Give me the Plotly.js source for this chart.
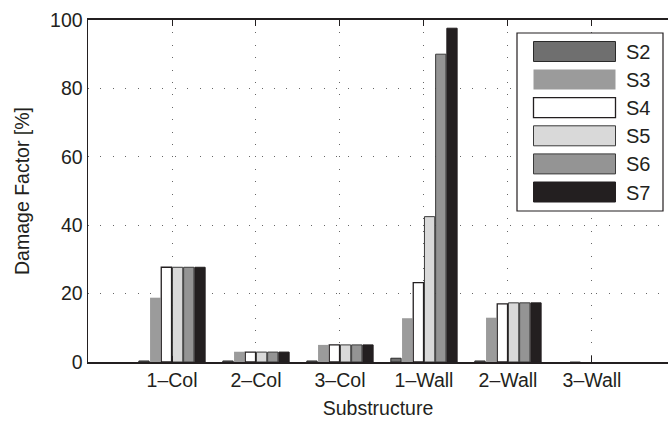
<!DOCTYPE html>
<html>
<head>
<meta charset="utf-8">
<script src="https://cdn.plot.ly/plotly-3.0.1.min.js"></script>
<style>html,body{margin:0;padding:0;background:#fff;}#chart{width:668px;height:421px;}</style>
</head>
<body>
<div id="chart"></div>
<script>
const categories = ['1–Col', '2–Col', '3–Col', '1–Wall', '2–Wall', '3–Wall'];
const seriesNames = ['S2', 'S3', 'S4', 'S5', 'S6', 'S7'];
const S2 = [0.3, 0.3, 0.3, 1.1, 0.3, 0.0];
const S3 = [18.8, 3.0, 5.0, 12.8, 12.95, 0.3];
const S4 = [27.7, 2.9, 5.0, 23.2, 17.0, 0.0];
const S5 = [27.7, 2.9, 5.0, 42.5, 17.3, 0.0];
const S6 = [27.7, 2.9, 5.0, 90.0, 17.3, 0.0];
const S7 = [27.7, 2.9, 5.0, 97.6, 17.3, 0.0];
const seriesValues = [S2, S3, S4, S5, S6, S7];
const fillColors = ['#6f6f6f', '#9b9b9b', '#ffffff', '#d9d9d9', '#949494', '#231f20'];
const edgeColors = ['#2a2a2a', 'rgba(0,0,0,0)', '#231f20', '#3a3a3a', '#3a3a3a', '#231f20'];
const edgeWidths = [1, 0, 1.3, 1, 1, 1];

const font = {family: 'Liberation Sans, Arial, sans-serif', color: '#231f20'};

const traces = seriesNames.map((n, i) => ({
  type: 'bar', name: n, x: categories, y: seriesValues[i],
  marker: {color: fillColors[i], line: {color: edgeColors[i],
    width: seriesValues[i].map(v => v > 0 ? edgeWidths[i] : 0)}},
  showlegend: false, hoverinfo: 'skip'
}));

// custom legend (big swatches as in the reference)
const shapes = [];
const annotations = [];
const plotL = 88, plotT = 20, plotW = 580, plotH = 342;
const px2x = p => (p - plotL) / plotW;
const py2y = p => 1 - (p - plotT) / plotH;
shapes.push({type: 'rect', xref: 'paper', yref: 'paper',
  x0: px2x(517), x1: px2x(663), y0: py2y(211), y1: py2y(33),
  fillcolor: '#ffffff', line: {color: '#231f20', width: 1.2}, layer: 'above'});
seriesNames.forEach((n, i) => {
  const top = 41.5 + i * 28.1;
  shapes.push({type: 'rect', xref: 'paper', yref: 'paper',
    x0: px2x(533.5), x1: px2x(615.5), y0: py2y(top + 20), y1: py2y(top),
    fillcolor: fillColors[i], line: {color: edgeColors[i], width: edgeWidths[i] || 0}, layer: 'above'});
  annotations.push({xref: 'paper', yref: 'paper', x: px2x(624), y: py2y(top + 10.5),
    xanchor: 'left', yanchor: 'middle', text: n, showarrow: false,
    font: Object.assign({size: 20}, font)});
});

const layout = {
  width: 668, height: 421,
  margin: {l: 88, r: 0, t: 20, b: 59},
  paper_bgcolor: '#ffffff', plot_bgcolor: '#ffffff',
  font: Object.assign({size: 19.5}, font),
  barmode: 'group', bargap: 0.2, bargroupgap: 0.08,
  showlegend: false,
  xaxis: {
    type: 'category', range: [-1, 5.905],
    showline: true, linecolor: '#231f20', linewidth: 1.6, mirror: 'ticks',
    ticks: 'inside', ticklen: 6, tickcolor: '#231f20', tickwidth: 1,
    showgrid: true, gridcolor: '#666', gridwidth: 1, griddash: '1px,11.4px',
    tickfont: Object.assign({size: 19.5}, font),
    title: {text: 'Substructure', font: Object.assign({size: 19.5}, font), standoff: 11},
    zeroline: false, fixedrange: true
  },
  yaxis: {
    range: [0, 100], tickvals: [0, 20, 40, 60, 80, 100],
    showline: true, linecolor: '#231f20', linewidth: 1.5, mirror: false,
    ticks: '', showgrid: true, gridcolor: '#666', gridwidth: 1, griddash: '1px,11.4px',
    tickfont: Object.assign({size: 19.5}, font),
    title: {text: 'Damage Factor [%]', font: Object.assign({size: 19.5}, font), standoff: 15},
    zeroline: false, fixedrange: true
  },
  shapes: shapes,
  annotations: annotations
};

Plotly.newPlot('chart', traces, layout, {staticPlot: true, displayModeBar: false});
</script>
</body>
</html>
